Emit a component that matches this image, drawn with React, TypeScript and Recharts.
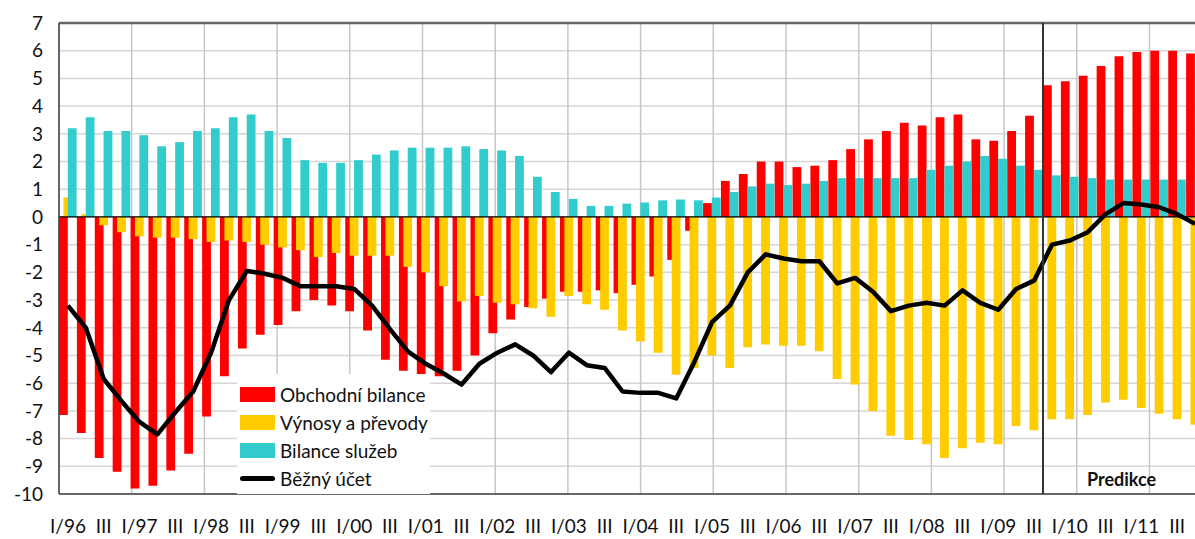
import { ComposedChart, Bar, Line, XAxis, YAxis, CartesianGrid, ReferenceLine, Legend } from 'recharts';

const years = ['96', '97', '98', '99', '00', '01', '02', '03', '04', '05', '06', '07', '08', '09', '10', '11'];
const quarterNames = ['I', 'II', 'III', 'IV'];

// Obchodní bilance
const trade = [
  -7.15, -7.8, -8.7, -9.2, -9.8, -9.7, -9.15, -8.55, -7.2, -5.75, -4.75, -4.25, -3.9,
  -3.4, -3.0, -3.2, -3.4, -4.1, -5.15, -5.55, -5.75, -5.75, -5.55, -5.0, -4.2, -3.7,
  -3.25, -2.95, -2.7, -2.7, -2.65, -2.75, -2.45, -2.15, -1.55, -0.5, 0.5, 1.3, 1.55,
  2.0, 2.0, 1.8, 1.85, 2.05, 2.45, 2.8, 3.1, 3.4, 3.3, 3.6, 3.7, 2.8,
  2.75, 3.1, 3.65, 4.75, 4.9, 5.1, 5.45, 5.8, 5.95, 6.0, 6.0, 5.9,
];

// Výnosy a převody
const income = [
  0.7, 0.1, -0.3, -0.55, -0.7, -0.75, -0.75, -0.8, -0.9, -0.85, -0.9, -1.0, -1.1,
  -1.2, -1.45, -1.3, -1.4, -1.4, -1.4, -1.8, -2.0, -2.5, -3.05, -2.85, -3.1, -3.15,
  -3.3, -3.6, -2.85, -3.15, -3.35, -4.1, -4.5, -4.9, -5.7, -5.45, -5.0, -5.45, -4.7,
  -4.6, -4.65, -4.65, -4.85, -5.85, -6.05, -7.0, -7.9, -8.05, -8.2, -8.7, -8.35, -8.15,
  -8.2, -7.55, -7.7, -7.3, -7.3, -7.15, -6.7, -6.6, -6.9, -7.1, -7.3, -7.5,
];

// Bilance služeb
const services = [
  3.2, 3.6, 3.1, 3.1, 2.95, 2.55, 2.7, 3.1, 3.2, 3.6, 3.7, 3.1, 2.85,
  2.05, 1.95, 1.95, 2.05, 2.25, 2.4, 2.5, 2.5, 2.5, 2.55, 2.45, 2.4, 2.2,
  1.45, 0.9, 0.65, 0.4, 0.4, 0.48, 0.52, 0.6, 0.63, 0.6, 0.7, 0.9, 1.1,
  1.2, 1.15, 1.2, 1.3, 1.4, 1.4, 1.4, 1.4, 1.4, 1.7, 1.85, 2.0, 2.2,
  2.1, 1.85, 1.7, 1.5, 1.45, 1.4, 1.35, 1.35, 1.35, 1.35, 1.35, 1.35,
];

// Běžný účet
const current = [
  -3.2, -4.0, -5.85, -6.65, -7.4, -7.85, -7.05, -6.3, -4.9, -3.0, -1.95, -2.05, -2.2,
  -2.5, -2.5, -2.5, -2.6, -3.2, -4.05, -4.85, -5.3, -5.65, -6.05, -5.3, -4.9, -4.6,
  -5.0, -5.6, -4.9, -5.35, -5.45, -6.3, -6.35, -6.35, -6.55, -5.25, -3.8, -3.2, -2.0,
  -1.35, -1.5, -1.6, -1.6, -2.4, -2.2, -2.7, -3.4, -3.2, -3.1, -3.2, -2.65, -3.1,
  -3.35, -2.6, -2.3, -1.0, -0.85, -0.55, 0.1, 0.5, 0.45, 0.35, 0.1, -0.25,
];

const yTicks = [-10, -9, -8, -7, -6, -5, -4, -3, -2, -1, 0, 1, 2, 3, 4, 5, 6, 7];
const yearTicks = [4, 8, 12, 16, 20, 24, 28, 32, 36, 40, 44, 48, 52, 56, 60];
const forecastFrom = 'IV/09';

const series = [
  { key: 'trade', name: 'Obchodní bilance', color: '#FF0000', type: 'rect' },
  { key: 'income', name: 'Výnosy a převody', color: '#FFCC00', type: 'rect' },
  { key: 'services', name: 'Bilance služeb', color: '#33CCCC', type: 'rect' },
  { key: 'current', name: 'Běžný účet', color: '#000000', type: 'line' },
];

const quarters = years.flatMap((y) => quarterNames.map((q) => `${q}/${y}`));

const data = quarters.map((q, i) => ({
  q,
  trade: trade[i],
  income: income[i],
  services: services[i],
  current: current[i],
}));

const FONT = 'Lato, "Liberation Sans", sans-serif';

const formatQuarter = (label: string) => {
  const [q] = label.split('/');
  if (q === 'I') return label;
  if (q === 'III') return 'III';
  return '';
};

const renderLegend = () => (
  <div style={{ background: '#fff', width: 193, height: 120, boxSizing: 'border-box', paddingTop: 6, paddingLeft: 3 }}>
    {series.map((s) => (
      <div key={s.key} style={{ display: 'flex', alignItems: 'center', height: 28 }}>
        {s.type === 'line' ? (
          <div style={{ width: 35, height: 5, borderRadius: 3, background: s.color }} />
        ) : (
          <div style={{ width: 35, height: 15, background: s.color }} />
        )}
        <span style={{ marginLeft: 5, fontFamily: FONT, fontSize: 19, color: '#111' }}>{s.name}</span>
      </div>
    ))}
  </div>
);

export default function App() {
  return (
    <div style={{ position: 'absolute', left: 0, top: 0, width: 1195, height: 539, overflow: 'hidden', background: '#fff' }}>
      <ComposedChart
        width={1210}
        height={539}
        data={data}
        barGap={-4.4}
        margin={{ top: 23, right: 6, bottom: 0, left: 0 }}
      >
        <CartesianGrid vertical={false} stroke="#D6D6D6" strokeWidth={1.5} />
        <CartesianGrid horizontal={false} xAxisId="num" stroke="#C6C6C6" strokeWidth={1.5} />
        <XAxis
          dataKey="q"
          interval={0}
          tickLine={false}
          tickFormatter={formatQuarter}
          tickMargin={20}
          height={45}
          axisLine={{ stroke: '#404040', strokeWidth: 1.5 }}
          tick={{ fontSize: 19, fill: '#111', fontFamily: FONT }}
        />
        <XAxis xAxisId="num" type="number" domain={[0, 64]} allowDataOverflow ticks={yearTicks} hide />
        <YAxis
          domain={[-10, 7]}
          ticks={yTicks}
          interval={0}
          width={59}
          tickLine={false}
          tickMargin={10}
          axisLine={{ stroke: '#404040', strokeWidth: 1.5 }}
          tick={{ fontSize: 19, fill: '#111', fontFamily: FONT }}
        />
        {series
          .filter((s) => s.type === 'rect')
          .map((s) => (
            <Bar key={s.key} dataKey={s.key} name={s.name} fill={s.color} barSize={8.8} isAnimationActive={false} />
          ))}
        <Line
          type="linear"
          dataKey="current"
          name="Běžný účet"
          stroke="#000"
          strokeWidth={4.5}
          strokeLinejoin="round"
          dot={false}
          activeDot={false}
          isAnimationActive={false}
        />
        <ReferenceLine y={0} stroke="#000" strokeWidth={1.2} />
        <ReferenceLine y={7} stroke="#666" strokeWidth={2.5} />
        <ReferenceLine x={forecastFrom} position="start" stroke="#333" strokeWidth={2} />
        <Legend
          layout="vertical"
          align="center"
          verticalAlign="middle"
          content={renderLegend}
          wrapperStyle={{ left: 237, top: 374, width: 193, height: 120 }}
        />
      </ComposedChart>
      <div
        style={{
          position: 'absolute',
          left: 1087,
          top: 468,
          fontFamily: FONT,
          fontWeight: 700,
          fontSize: 18,
          color: '#111',
        }}
      >
        Predikce
      </div>
    </div>
  );
}
